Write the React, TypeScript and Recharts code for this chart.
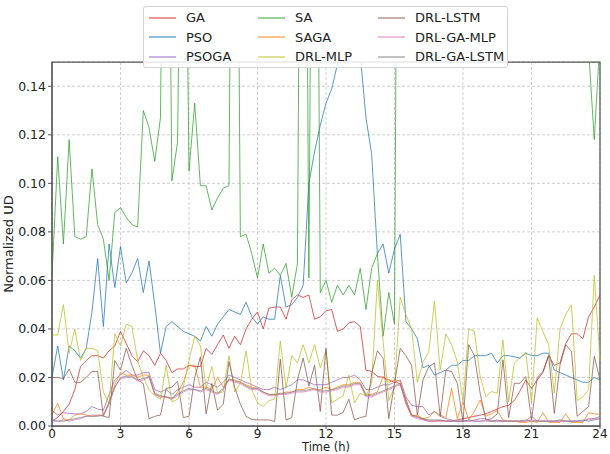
import {
  LineChart,
  Line,
  XAxis,
  YAxis,
  CartesianGrid,
  Legend,
  ReferenceArea,
} from "recharts";

const FONT = "'DejaVu Sans', sans-serif";

// 15-minute steps over one day
const hours = Array.from({ length: 97 }, (_, i) => i / 4);
const xTicks = [0, 3, 6, 9, 12, 15, 18, 21, 24];
const yTicks = [0, 0.02, 0.04, 0.06, 0.08, 0.1, 0.12, 0.14];

const ga = [
  0.002, 0.0035, 0.006, 0.009, 0.015, 0.0245, 0.027, 0.029,
  0.029, 0.028, 0.031, 0.033, 0.039, 0.034, 0.029, 0.0265,
  0.031, 0.029, 0.025, 0.03, 0.027, 0.022, 0.0235, 0.0235,
  0.025, 0.0245, 0.0245, 0.032, 0.0295, 0.0335, 0.0375, 0.032,
  0.037, 0.0335, 0.04, 0.044, 0.047, 0.04, 0.0485, 0.049,
  0.049, 0.044, 0.052, 0.054, 0.053, 0.054, 0.044, 0.045,
  0.0475, 0.048, 0.039, 0.04, 0.0425, 0.043, 0.041, 0.023,
  0.0225, 0.0205, 0.02, 0.019, 0.018, 0.0175, 0.011, 0.0045,
  0.004, 0.0027, 0.002, 0.002, 0.0022, 0.002, 0.002, 0.0025,
  0.003, 0.0035, 0.004, 0.0045, 0.005, 0.006, 0.007, 0.008,
  0.0085, 0.0105, 0.0145, 0.019, 0.0155, 0.019, 0.022, 0.029,
  0.025, 0.026, 0.034, 0.038, 0.038, 0.036, 0.045, 0.049,
  0.054,
];

const pso = [
  0.02, 0.033, 0.019, 0.033, 0.031, 0.028, 0.032, 0.047,
  0.069, 0.041, 0.075, 0.057, 0.074, 0.059, 0.063, 0.069,
  0.055, 0.068, 0.05, 0.03, 0.041, 0.043, 0.041, 0.039,
  0.038, 0.037, 0.035, 0.041, 0.037, 0.042, 0.045, 0.048,
  0.047, 0.046, 0.051, 0.045, 0.042, 0.045, 0.044, 0.044,
  0.062, 0.049, 0.05, 0.053, 0.058, 0.1, 0.113, 0.124,
  0.133, 0.139, 0.149, 0.165, 0.172, 0.166, 0.153, 0.127,
  0.112, 0.071, 0.075, 0.063, 0.073, 0.079, 0.043, 0.04,
  0.036, 0.024, 0.025, 0.021, 0.022, 0.023, 0.025, 0.025,
  0.027, 0.027, 0.029, 0.029, 0.029, 0.03, 0.026, 0.029,
  0.029, 0.0285, 0.028, 0.03, 0.029, 0.029, 0.03, 0.03,
  0.023, 0.022, 0.021, 0.02, 0.019, 0.018, 0.018, 0.02,
  0.019,
];

const psoga = [
  0.0065, 0.0045, 0.0055, 0.0052, 0.005, 0.005, 0.006, 0.008,
  0.007, 0.0065, 0.013, 0.019, 0.021, 0.023, 0.021, 0.021,
  0.022, 0.022, 0.015, 0.014, 0.015, 0.013, 0.015, 0.016,
  0.017, 0.016, 0.016, 0.018, 0.017, 0.016, 0.018, 0.021,
  0.02, 0.019, 0.018, 0.017, 0.016, 0.015, 0.015, 0.016,
  0.015, 0.016, 0.017, 0.019, 0.019, 0.018, 0.017, 0.017,
  0.017, 0.018, 0.019, 0.02, 0.02, 0.021, 0.019, 0.015,
  0.015, 0.016, 0.017, 0.017, 0.018, 0.019, 0.012, 0.0085,
  0.008, 0.008, 0.0045, 0.006, 0.004, 0.003, 0.0025, 0.002,
  0.002, 0.002, 0.0025, 0.003, 0.003, 0.002, 0.002, 0.002,
  0.002, 0.002, 0.002, 0.002, 0.004, 0.002, 0.002, 0.002,
  0.002, 0.002, 0.002, 0.002, 0.002, 0.002, 0.003, 0.003,
  0.004,
];

// values above 0.15 run off the top of the axes
const sa = [
  0.062, 0.111, 0.075, 0.118, 0.078, 0.077, 0.078, 0.106,
  0.083, 0.077, 0.06, 0.088, 0.09, 0.086, 0.083, 0.082,
  0.13, 0.123, 0.109, 0.127, 0.35, 0.101, 0.117, 0.32,
  0.105, 0.133, 0.099, 0.099, 0.089, 0.094, 0.098, 0.099,
  0.4, 0.078, 0.079, 0.071, 0.061, 0.075, 0.063, 0.065,
  0.062, 0.067, 0.053, 0.067, 0.45, 0.061, 0.42, 0.055,
  0.06, 0.051, 0.058, 0.054, 0.058, 0.054, 0.065, 0.048,
  0.065, 0.071, 0.037, 0.055, 0.042, 0.48, 0.41, 0.36,
  0.39, 0.44, 0.31, 0.37, 0.42, 0.35, 0.29, 0.33,
  0.38, 0.45, 0.4, 0.34, 0.3, 0.36, 0.41, 0.37,
  0.33, 0.39, 0.44, 0.38, 0.32, 0.35, 0.4, 0.43,
  0.36, 0.31, 0.34, 0.39, 0.33, 0.28, 0.155, 0.118,
  0.16,
];

const saga = [
  0.0045, 0.0094, 0.003, 0.0025, 0.0045, 0.005, 0.0045, 0.004,
  0.0045, 0.0045, 0.01, 0.017, 0.022, 0.021, 0.021, 0.02,
  0.021, 0.021, 0.013, 0.012, 0.012, 0.011, 0.014, 0.018,
  0.025, 0.025, 0.016, 0.016, 0.015, 0.02, 0.016, 0.019,
  0.019, 0.018, 0.017, 0.016, 0.0155, 0.014, 0.013, 0.013,
  0.013, 0.014, 0.014, 0.015, 0.015, 0.016, 0.015, 0.015,
  0.016, 0.015, 0.016, 0.017, 0.017, 0.018, 0.018, 0.013,
  0.013, 0.014, 0.0205, 0.018, 0.019, 0.0185, 0.01, 0.004,
  0.0045, 0.003, 0.0035, 0.006, 0.0045, 0.0035, 0.0156, 0.003,
  0.01, 0.0025, 0.006, 0.0107, 0.004, 0.005, 0.0065, 0.0025,
  0.002, 0.002, 0.0015, 0.0015, 0.002, 0.0015, 0.0055, 0.0015,
  0.0015, 0.0015, 0.005, 0.0015, 0.0015, 0.0015, 0.0055, 0.005,
  0.0048,
];

const drlMlp = [
  0.0375, 0.0375, 0.05, 0.03, 0.04, 0.027, 0.032, 0.032,
  0.031, 0.014, 0.009, 0.038, 0.033, 0.042, 0.041, 0.027,
  0.02, 0.015, 0.0125, 0.011, 0.025, 0.01, 0.011, 0.016,
  0.027, 0.037, 0.033, 0.0155, 0.0245, 0.0135, 0.014, 0.029,
  0.014, 0.0175, 0.031, 0.015, 0.0095, 0.008, 0.0105, 0.011,
  0.035, 0.0155, 0.029, 0.026, 0.0335, 0.026, 0.0335, 0.024,
  0.031, 0.0095, 0.011, 0.0125, 0.021, 0.0095, 0.0135, 0.0125,
  0.0175, 0.06, 0.035, 0.0105, 0.016, 0.053, 0.046, 0.04,
  0.018, 0.0265, 0.0305, 0.0515, 0.023, 0.038, 0.0335, 0.0265,
  0.01, 0.04, 0.039, 0.0205, 0.012, 0.0142, 0.0135, 0.0355,
  0.01, 0.026, 0.028, 0.0305, 0.0095, 0.0445, 0.039, 0.0335,
  0.0135, 0.04, 0.046, 0.05, 0.0105, 0.012, 0.015, 0.062,
  0.027,
];

const drlLstm = [
  0.02, 0.02, 0.0195, 0.0235, 0.018, 0.018, 0.02, 0.0225,
  0.0225, 0.004, 0.0035, 0.027, 0.023, 0.032, 0.025, 0.019,
  0.0175, 0.003, 0.004, 0.0045, 0.0155, 0.016, 0.0185, 0.0035,
  0.004, 0.02, 0.0285, 0.005, 0.0175, 0.0065, 0.009, 0.0265,
  0.016, 0.009, 0.004, 0.0027, 0.0025, 0.0025, 0.0025, 0.0018,
  0.0275, 0.0025, 0.0035, 0.019, 0.028, 0.0165, 0.025, 0.006,
  0.032, 0.0045, 0.0045, 0.0056, 0.011, 0.0025, 0.0035, 0.004,
  0.0215, 0.031, 0.028, 0.003, 0.0175, 0.032, 0.029, 0.025,
  0.0045, 0.019, 0.0244, 0.026, 0.004, 0.023, 0.0224, 0.0176,
  0.0018, 0.0335, 0.029, 0.0135, 0.0025, 0.003, 0.005, 0.0273,
  0.0035, 0.0176, 0.0176, 0.0204, 0.0025, 0.02, 0.0224, 0.029,
  0.0052, 0.0252, 0.0335, 0.0307, 0.004, 0.006, 0.008, 0.0287,
  0.019,
];

const drlGaMlp = [
  0.002, 0.002, 0.0025, 0.002, 0.0025, 0.003, 0.004, 0.0045,
  0.0045, 0.004, 0.009, 0.016, 0.0195, 0.02, 0.02, 0.0185,
  0.019, 0.02, 0.013, 0.012, 0.012, 0.011, 0.0125, 0.014,
  0.015, 0.015, 0.014, 0.015, 0.014, 0.013, 0.015, 0.019,
  0.018, 0.0175, 0.016, 0.015, 0.015, 0.0135, 0.0125, 0.0125,
  0.013, 0.013, 0.0135, 0.014, 0.014, 0.0145, 0.015, 0.014,
  0.014, 0.0145, 0.015, 0.016, 0.016, 0.017, 0.017, 0.012,
  0.012, 0.013, 0.014, 0.015, 0.016, 0.017, 0.009, 0.004,
  0.003, 0.0025, 0.002, 0.002, 0.002, 0.002, 0.002, 0.002,
  0.002, 0.002, 0.002, 0.002, 0.0025, 0.002, 0.002, 0.002,
  0.002, 0.002, 0.002, 0.002, 0.0025, 0.002, 0.002, 0.002,
  0.002, 0.002, 0.002, 0.002, 0.002, 0.002, 0.0025, 0.003,
  0.003,
];

const drlGaLstm = [
  0.0025, 0.002, 0.002, 0.0025, 0.003, 0.0035, 0.004, 0.004,
  0.004, 0.0045, 0.0095, 0.016, 0.02, 0.0205, 0.0205, 0.019,
  0.0195, 0.0205, 0.0135, 0.0125, 0.012, 0.0115, 0.013, 0.0145,
  0.0155, 0.015, 0.0145, 0.0155, 0.0145, 0.0135, 0.0155, 0.0195,
  0.0185, 0.018, 0.0165, 0.0155, 0.0155, 0.014, 0.013, 0.013,
  0.0135, 0.0135, 0.014, 0.0145, 0.0145, 0.015, 0.0155, 0.0145,
  0.0145, 0.015, 0.0155, 0.0165, 0.0165, 0.0175, 0.0175, 0.0125,
  0.0125, 0.0135, 0.0145, 0.0155, 0.0165, 0.0175, 0.0095, 0.0045,
  0.0035, 0.003, 0.0025, 0.0025, 0.0025, 0.002, 0.002, 0.002,
  0.002, 0.0025, 0.002, 0.002, 0.002, 0.002, 0.0025, 0.002,
  0.002, 0.002, 0.002, 0.0025, 0.002, 0.002, 0.002, 0.002,
  0.002, 0.0025, 0.002, 0.002, 0.002, 0.0025, 0.002, 0.0025,
  0.003,
];

// drawing order = legend order (column by column)
const series = [
  { key: "GA", color: "#d62728", values: ga },
  { key: "PSO", color: "#1f77b4", values: pso },
  { key: "PSOGA", color: "#9467bd", values: psoga },
  { key: "SA", color: "#2ca02c", values: sa },
  { key: "SAGA", color: "#ff7f0e", values: saga },
  { key: "DRL-MLP", color: "#bcbd22", values: drlMlp },
  { key: "DRL-LSTM", color: "#8c564b", values: drlLstm },
  { key: "DRL-GA-MLP", color: "#e377c2", values: drlGaMlp },
  { key: "DRL-GA-LSTM", color: "#7f7f7f", values: drlGaLstm },
];

const data = hours.map((t, i) => {
  const row: Record<string, number> = { t };
  series.forEach((s) => {
    row[s.key] = s.values[i];
  });
  return row;
});

const colLeft = [5, 114, 234];

function LegendBox() {
  return (
    <div
      style={{
        position: "relative",
        width: 365,
        height: 62,
        boxSizing: "border-box",
        border: "1px solid #d4d4d4",
        borderRadius: 3,
        background: "rgba(255,255,255,0.85)",
        fontFamily: FONT,
        fontSize: 13,
        color: "#222",
      }}
    >
      {series.map((s, i) => (
        <div
          key={s.key}
          style={{
            position: "absolute",
            left: colLeft[Math.floor(i / 3)],
            top: 1 + (i % 3) * 19.5,
            height: 19.5,
            display: "flex",
            alignItems: "center",
            whiteSpace: "nowrap",
          }}
        >
          <svg width={27} height={4} style={{ marginRight: 10 }}>
            <line
              x1={0}
              y1={2}
              x2={27}
              y2={2}
              stroke={s.color}
              strokeOpacity={0.75}
              strokeWidth={1.3}
            />
          </svg>
          <span>{s.key}</span>
        </div>
      ))}
    </div>
  );
}

export default function App() {
  const yTickStyle = { fontFamily: FONT, fontSize: 12.5, fill: "#222" };
  const xTickStyle = { fontFamily: FONT, fontSize: 12, fill: "#222" };
  return (
    <div style={{ position: "absolute", left: 0, top: 0 }}>
      <LineChart
        width={610}
        height={454}
        data={data}
        margin={{ top: 62, right: 10, bottom: 8, left: 0 }}
      >
        <CartesianGrid stroke="#cfcfcf" strokeDasharray="3 2" />
        <XAxis
          dataKey="t"
          type="number"
          domain={[0, 24]}
          ticks={xTicks}
          height={20}
          tick={xTickStyle}
          tickSize={3}
          tickMargin={0}
          stroke="#555"
        />
        <YAxis
          type="number"
          domain={[0, 0.15]}
          allowDataOverflow
          ticks={yTicks}
          width={52}
          tick={yTickStyle}
          tickSize={4}
          tickMargin={2}
          tickFormatter={(v: number) => v.toFixed(2)}
          stroke="#555"
        />
        {series.map((s) => (
          <Line
            key={s.key}
            type="linear"
            dataKey={s.key}
            stroke={s.color}
            strokeOpacity={0.75}
            strokeWidth={1}
            dot={false}
            activeDot={false}
            isAnimationActive={false}
          />
        ))}
        <ReferenceArea
          x1={0}
          x2={24}
          y1={0}
          y2={0.15}
          fill="none"
          stroke="#555"
          strokeWidth={1.25}
        />
        <Legend
          layout="vertical"
          align="center"
          verticalAlign="middle"
          wrapperStyle={{ left: 143, top: 6, width: 365, height: 62 }}
          content={() => <LegendBox />}
        />
        <text
          x={13}
          y={244}
          transform="rotate(-90, 13, 244)"
          textAnchor="middle"
          fontFamily={FONT}
          fontSize={13}
          fill="#222"
        >
          Normalized UD
        </text>
        <text
          x={326}
          y={451.2}
          textAnchor="middle"
          fontFamily={FONT}
          fontSize={11.5}
          fill="#222"
        >
          Time (h)
        </text>
      </LineChart>
    </div>
  );
}
